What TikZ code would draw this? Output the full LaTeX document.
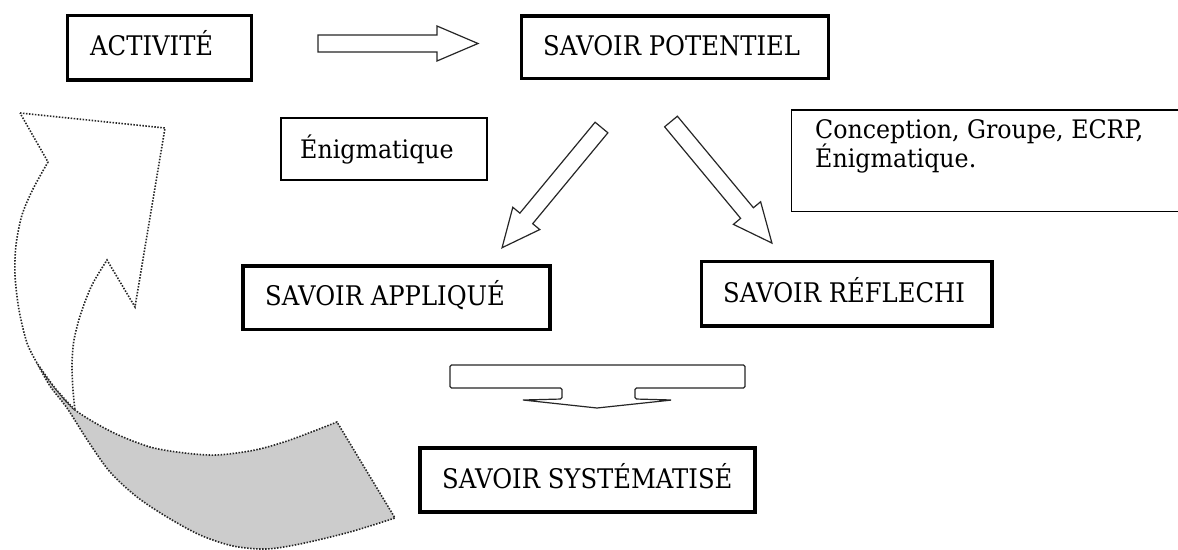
\documentclass[tikz,border=0pt]{standalone}
\usepackage{fontspec}
\setmainfont{DejaVu Serif}[FakeStretch=0.9]
\newfontfamily\smallfont{DejaVu Serif}[FakeStretch=0.93]
\begin{document}
\begin{tikzpicture}[x=1pt,y=-1pt,
  titlebox/.style={draw=black, line width=3.8pt, inner sep=0pt, fill=white},
  thinbox/.style={draw=black, line width=1.3pt, inner sep=0pt, fill=white},
  titletext/.style={anchor=base west, inner sep=0pt, font=\fontsize{27}{30}\selectfont},
  smalltext/.style={anchor=base west, inner sep=0pt, font=\smallfont\fontsize{25.5}{29}\selectfont},
  blockline/.style={draw=black!85, line width=1.2pt, fill=white, line join=miter},
  dottedline/.style={draw=black!85, line width=1.6pt, dash pattern=on 1.5pt off 1.5pt},
  pics/blockarrow/.style n args={4}{code={
    \draw[blockline] (0,{-#2}) -- ({#1-#4},{-#2}) -- ({#1-#4},{-#3}) -- (#1,0)
      -- ({#1-#4},{#3}) -- ({#1-#4},{#2}) -- (0,{#2}) -- cycle;}}
]
\useasboundingbox (0,0) rectangle (1178,549);
\clip (0,0) rectangle (1178,549);

% curved return arrow (back band, grey)
\path[dottedline, fill=black!20]
  (37,363) -- plot[smooth] coordinates {(37,363) (50,386) (67,408) (88,441) (110,472) (137,497) (167,517) (200,535) (233,546) (266,549) (300,544) (350,532) (395,518)}
  -- (337,422)
  -- plot[smooth] coordinates {(337,422) (290,440) (255,450) (217,455) (185,453) (150,447) (112,432) (75,410) (55,388) (37,363)}
  -- cycle;
% curved return arrow (front band with head)
\path[dottedline, fill=white]
  (20,113) -- (165,128) -- (135,307) -- (107,260)
  -- plot[smooth] coordinates {(107,260) (92,285) (81,313) (74,340) (72,365) (73,390) (75,410)}
  -- plot[smooth] coordinates {(75,410) (55,388) (37,363)}
  -- plot[smooth] coordinates {(37,363) (27,343) (19,310) (15,275) (16,245) (22,215) (33,189) (48,162)}
  -- cycle;

% boxes
\node[titlebox, minimum width=184pt, minimum height=64.5pt] (act) at (159.5,47.75) {};
\node[titletext] (acttxt) at (90,55) {ACTIVITÉ};

\node[titlebox, minimum width=307pt, minimum height=62.5pt] (pot) at (675,47.25) {};
\node[titletext] (pottxt) at (543,55) {SAVOIR POTENTIEL};

\node[thinbox, minimum width=206pt, minimum height=62pt] (eni) at (384,149) {};
\node[smalltext] (enitxt) at (300,158) {Énigmatique};

\node[thinbox, minimum width=420pt, minimum height=101.5pt] (conc) at (1001.5,160.75) {};
\node[smalltext] (conctxta) at (815,138) {Conception, Groupe, ECRP,};
\node[smalltext] (conctxtb) at (815,167) {Énigmatique.};

\node[titlebox, minimum width=307pt, minimum height=63.5pt] (app) at (396.5,297.75) {};
\node[titletext] (apptxt) at (265,305) {SAVOIR APPLIQUÉ};

\node[titlebox, minimum width=290.5pt, minimum height=64.5pt] (ref) at (846.75,293.75) {};
\node[titletext] (reftxt) at (723,302) {SAVOIR RÉFLECHI};

\node[titlebox, minimum width=335pt, minimum height=64pt] (sys) at (587.5,480) {};
\node[titletext] (systxt) at (442,488) {SAVOIR SYSTÉMATISÉ};

% block arrows
\pic (harrow) at (318,43.5) {blockarrow={160}{8.5}{17.5}{41}};
\pic[rotate=230.4] (larrow) at (601.5,127.5) {blockarrow={156}{8.3}{17.5}{38}};
\pic[rotate=-50.3] (rarrow) at (671,121.5) {blockarrow={158}{8.3}{17.7}{39}};

% flat downward arrow
\draw[blockline, rounded corners=1.5pt] (450,365) -- (745,365) -- (745,388) -- (635,388) -- (635,399)
  -- (672,400) [sharp corners] -- (597,408) -- (523,400) [rounded corners=1.5pt] -- (562,399) -- (562,388) -- (450,388) -- cycle;
\end{tikzpicture}
\end{document}
